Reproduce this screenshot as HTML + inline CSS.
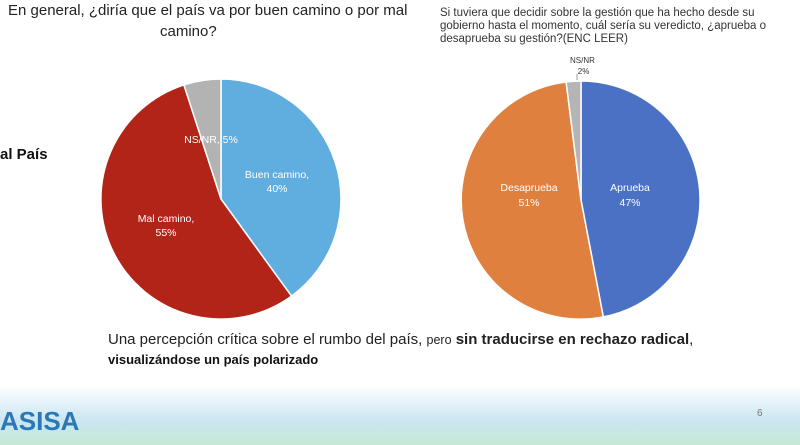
<!DOCTYPE html>
<html><head><meta charset="utf-8"><style>
html,body{margin:0;padding:0;}
body{width:800px;height:445px;position:relative;overflow:hidden;background:#fff;font-family:"Liberation Sans",sans-serif;}
.t{position:absolute;white-space:nowrap;}
.footer{position:absolute;left:0;top:385px;width:800px;height:60px;background:linear-gradient(to bottom,#ffffff 0%,#e4f2f8 30%,#cbe6f2 60%,#c6e9d4 100%);}
</style></head><body>
<div class="footer"></div>
<div class="t" style="left:8px;top:2px;font-size:15px;color:#222;">En general, ¿diría que el país va por buen camino o por mal</div>
<div class="t" style="left:160px;top:23px;font-size:15px;color:#222;">camino?</div>
<div class="t" style="left:0;top:146px;font-size:15px;font-weight:bold;color:#111;">al País</div>
<div class="t" style="left:440px;top:7px;font-size:11.5px;color:#333;line-height:13px;">Si tuviera que decidir sobre la gestión que ha hecho desde su<br>gobierno hasta el momento, cuál sería su veredicto, ¿aprueba o<br>desaprueba su gestión?(ENC LEER)</div>
<div class="t" style="left:570px;top:55px;font-size:8px;color:#333;text-align:center;line-height:11px;">NS/NR<br>&nbsp;2%</div>
<svg width="800" height="445" style="position:absolute;left:0;top:0">
<g stroke="#fff" stroke-width="1.5">
<path d="M221,199 L221,79 A120,120 0 0 1 291.5,296.1 Z" fill="#60ade0"/>
<path d="M221,199 L291.5,296.1 A120,120 0 1 1 183.9,84.9 Z" fill="#b22418"/>
<path d="M221,199 L183.9,84.9 A120,120 0 0 1 221,79 Z" fill="#b3b3b3"/>
<path d="M581,200 L581,81 A119,119 0 0 1 603.3,316.9 Z" fill="#4a71c3"/>
<path d="M581,200 L603.3,316.9 A119,119 0 1 1 566.1,82 Z" fill="#e0803f"/>
<path d="M581,200 L566.1,82 A119,119 0 0 1 581,81 Z" fill="#b5b5b5"/>
</g>
<line x1="577" y1="74" x2="577" y2="80" stroke="#999" stroke-width="1"/>
<g fill="#fff" font-family="Liberation Sans,sans-serif" font-size="10.5" text-anchor="middle">
<text x="211" y="143">NS/NR, 5%</text>
<text x="277" y="178">Buen camino,</text><text x="277" y="192">40%</text>
<text x="166" y="222">Mal camino,</text><text x="166" y="236">55%</text>
<text x="529" y="191">Desaprueba</text><text x="529" y="206">51%</text>
<text x="630" y="191">Aprueba</text><text x="630" y="206">47%</text>
</g>
<text x="757" y="416" font-size="10" fill="#777" font-family="Liberation Sans,sans-serif">6</text>
<text x="0" y="430" font-size="26" font-weight="bold" fill="#2a78b5" font-family="Liberation Sans,sans-serif">ASISA</text>
</svg>
<div class="t" style="left:108px;top:331px;font-size:15px;color:#222;">Una percepción crítica sobre el rumbo del país, <span style="font-size:12.5px">pero</span> <b>sin traducirse en rechazo radical</b>,</div>
<div class="t" style="left:108px;top:352px;font-size:13px;color:#111;font-weight:bold;">visualizándose un país polarizado</div>
</body></html>
